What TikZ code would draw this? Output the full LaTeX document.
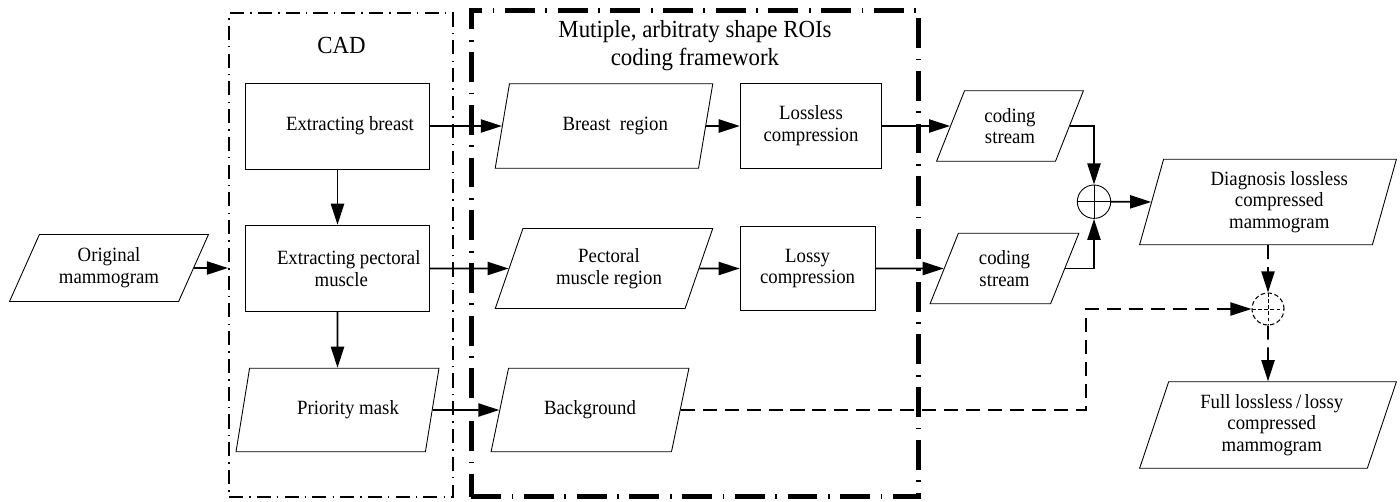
\documentclass[tikz,border=0pt]{standalone}
\usepackage{fontspec}
\setmainfont{Liberation Serif}[FakeStretch=0.93]
\usetikzlibrary{shapes.geometric,arrows.meta}
\begin{document}
\begin{tikzpicture}[x=0.02cm, y=-0.02cm,
		font=\fontsize{11.5}{12.4}\selectfont,
		box/.style={draw, line width=0.5pt, align=center, inner sep=1pt},
		io/.style={draw, line width=0.5pt, align=center, inner sep=1pt, shape=trapezium, trapezium stretches=true, trapezium left angle=#1, trapezium right angle=180-#1},
		sum/.style={draw, line width=0.5pt, circle, minimum size=0.668cm, inner sep=0pt, path picture={\draw[line width=0.5pt] (path picture bounding box.north) -- (path picture bounding box.south) (path picture bounding box.west) -- (path picture bounding box.east);}},
		dsum/.style={draw, line width=0.6pt, dash pattern=on 2.5pt off 1.5pt, circle, minimum size=0.64cm, inner sep=0pt, path picture={\draw[line width=0.4pt, dash pattern=on 2pt off 1.5pt] (path picture bounding box.north) -- (path picture bounding box.south) (path picture bounding box.west) -- (path picture bounding box.east);}},
		flow/.style={line width=1pt, -{Triangle[length=12pt, width=7.5pt]}},
		dflow/.style={flow, dash pattern=on 8pt off 4.5pt},
		cadframe/.style={draw, line width=1.2pt, dash pattern=on 8pt off 3.5pt on 0.8pt off 3.5pt},
		roiframe/.style={draw, line width=2.6pt, dash pattern=on 17pt off 6pt on 1pt off 6pt}]
	\useasboundingbox (0,0) rectangle (1400,501);

	% dash-dot frames
	\node[cadframe, minimum width=4.48cm, minimum height=9.67cm] (cad) at (341,255) {};
	\node[roiframe, minimum width=8.95cm, minimum height=9.73cm] (roi) at (695,253.5) {};
	\node[font=\fontsize{14}{17}\selectfont] (cadlabel) at (341.5,45) {CAD};
	\node[font=\fontsize{14}{15.9}\selectfont, align=center] (roilabel) at (695,46) {Mutiple, arbitraty shape ROIs\\coding framework};

	% input
	\node[io=63, minimum width=4cm, minimum height=1.34cm] (orig) at (109,268) {Original\\mammogram};

	% CAD column
	\node[box, minimum width=3.68cm, minimum height=1.72cm] (ebreast) at (337.5,126) {\hspace*{0.5cm}Extracting breast};
	\node[box, minimum width=3.68cm, minimum height=1.73cm] (epect) at (337.5,268.5) {\hspace*{0.45cm}Extracting pectoral\\\hspace*{0.15cm}muscle};
	\node[io=66, minimum width=4.08cm, minimum height=1.67cm] (pmask) at (337.5,410) {\hspace*{0.42cm}Priority mask};

	% ROI regions
	\node[io=65, minimum width=4.36cm, minimum height=1.69cm] (bregion) at (604,126) {\hspace*{0.45cm}Breast\ \ region};
	\node[io=65, minimum width=4.38cm, minimum height=1.6cm] (pregion) at (604,268.5) {\hspace*{0.2cm}Pectoral\\\hspace*{0.2cm}muscle region};
	\node[io=65, minimum width=3.98cm, minimum height=1.67cm] (bg) at (590,410) {Background};

	% compression
	\node[box, minimum width=2.83cm, minimum height=1.71cm] (lossless) at (811,126) {Lossless\\compression};
	\node[box, minimum width=2.7cm, minimum height=1.67cm] (lossy) at (807.6,268.5) {Lossy\\compression};

	% streams
	\node[io=67, minimum width=2.94cm, minimum height=1.41cm] (cs1) at (1010,126) {coding\\stream};
	\node[io=67, minimum width=2.98cm, minimum height=1.41cm] (cs2) at (1004.5,268.5) {coding\\stream};
	\node[sum] (plus) at (1094,201.7) {};
	\node[io=74, minimum width=5.14cm, minimum height=1.71cm] (diag) at (1268,202) {\hspace*{0.45cm}Diagnosis lossless\\\hspace*{0.45cm}compressed\\\hspace*{0.45cm}mammogram};
	\node[dsum] (dplus) at (1268,309) {};
	\node[io=71, minimum width=5.14cm, minimum height=1.73cm] (full) at (1268,425) {\hspace*{0.15cm}Full lossless\,/\,lossy\\\hspace*{0.15cm}compressed\\\hspace*{0.15cm}mammogram};
	\coordinate (turn) at (1086,309);

	% connectors
	\draw[flow] (orig.east) -- (orig.east -| cad.west);
	\draw[flow] (ebreast.east) -- (bregion.west);
	\draw[flow] (bregion.east) -- (lossless.west);
	\draw[flow] (lossless.east) -- (cs1.west);
	\draw[flow] (ebreast.south) -- (epect.north);
	\draw[flow] (epect.east) -- (pregion.west);
	\draw[flow] (pregion.east) -- (lossy.west);
	\draw[flow] (lossy.east) -- (cs2.west);
	\draw[flow] (epect.south) -- (pmask.north);
	\draw[flow] (pmask.east) -- (bg.west);
	\draw[flow] (cs1.east) -| (plus.north);
	\draw[flow] (cs2.east) -| (plus.south);
	\draw[flow] (plus.east) -- (diag.west);
	\draw[dflow] (bg.east) -| (turn) -- (dplus.west);
	\draw[dflow] (diag.south) -- (dplus.north);
	\draw[dflow] (dplus.south) -- (full.north);
\end{tikzpicture}
\end{document}
